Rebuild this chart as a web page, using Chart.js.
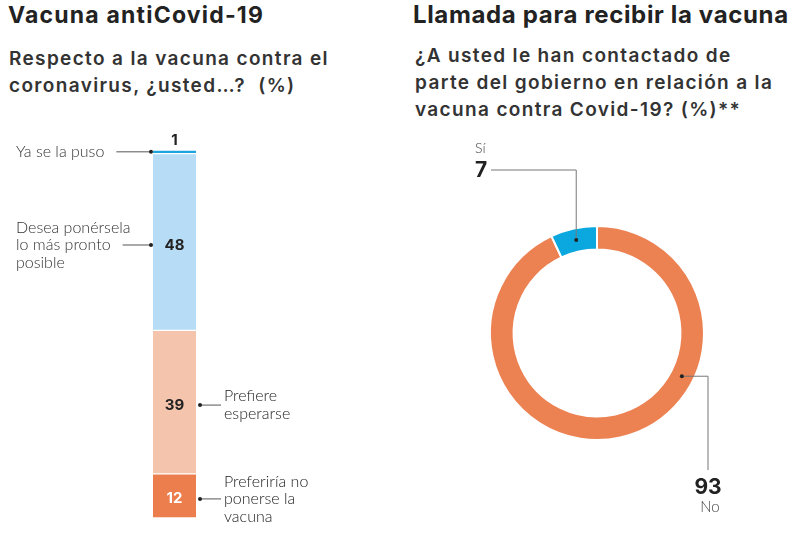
<!DOCTYPE html>
<html>
<head>
<meta charset="utf-8">
<script src="https://cdn.jsdelivr.net/npm/chart.js@4.4.0/dist/chart.umd.min.js"></script>
<style>
  body { margin: 0; width: 800px; height: 542px; background: #fff; position: relative; overflow: hidden; font-family: Inter, "Open Sans", sans-serif; color: #222; }
  .titulo { position: absolute; font-weight: 700; font-size: 23px; line-height: 26px; white-space: nowrap; letter-spacing: 1.2px; }
  .sub { position: absolute; font-weight: 600; font-size: 19px; line-height: 27px; color: #333; white-space: nowrap; letter-spacing: 1.35px; }
  .lienzo { position: absolute; top: 130px; width: 400px; height: 412px; }
</style>
</head>
<body>
<div class="titulo" style="left:8px;top:2px">Vacuna antiCovid-19</div>
<div class="sub" style="left:9px;top:45px">Respecto a la vacuna contra el<br>coronavirus, ¿usted…?&nbsp; (%)</div>
<div class="titulo" style="left:413px;top:2px;font-size:24px;letter-spacing:0.65px">Llamada para recibir la vacuna</div>
<div class="sub" style="left:415px;top:42px">¿A usted le han contactado de<br>parte del gobierno en relación a la<br>vacuna contra Covid-19? (%)**</div>

<canvas id="graficoBarra" class="lienzo" style="left:0" width="400" height="412"></canvas>
<canvas id="graficoDona" class="lienzo" style="left:400px" width="400" height="412"></canvas>

<script>
// datos de la barra apilada (de arriba hacia abajo)
const categoriasVacuna = ["Ya se la puso", "Desea ponérsela lo más pronto posible", "Prefiere esperarse", "Preferiría no ponerse la vacuna"];
const etiquetasVacuna = [["Ya se la puso"], ["Desea ponérsela", "lo más pronto", "posible"], ["Prefiere", "esperarse"], ["Preferiría no", "ponerse la", "vacuna"]];
const valoresVacuna = [1, 48, 39, 12];
const ladoEtiqueta = ["izq", "izq", "der", "der"];

// datos de la dona
const categoriasLlamada = ["No", "Sí"];
const valoresLlamada = [93, 7];

const coloresVacuna = ["#1ca4de", "#b7dcf6", "#f5c4ad", "#ec7d4d"];
const coloresTextoVacuna = ["#222", "#222", "#222", "#fff"];
const coloresLlamada = ["#ec8152", "#0ba8df"];

const fuenteLigera = '300 16px Lato, "Open Sans", sans-serif';
const fuenteNegrita = '700 15px Inter, "Open Sans", sans-serif';

function punto(ctx, x, y) {
  ctx.beginPath();
  ctx.arc(x, y, 2, 0, Math.PI * 2);
  ctx.fillStyle = "#222";
  ctx.fill();
}

// plugin para los numeros y las etiquetas con linea guia
const etiquetasBarra = {
  id: "etiquetasBarra",
  afterDatasetsDraw(chart) {
    const ctx = chart.ctx;
    ctx.save();
    chart.data.datasets.forEach((ds, i) => {
      const bar = chart.getDatasetMeta(i).data[0];
      const arriba = Math.min(bar.y, bar.base);
      const abajo = Math.max(bar.y, bar.base);
      const izq = bar.x - bar.width / 2;
      const der = bar.x + bar.width / 2;
      let cy = (arriba + abajo) / 2;

      // valor
      ctx.font = fuenteNegrita;
      ctx.textAlign = "center";
      ctx.textBaseline = "middle";
      ctx.fillStyle = coloresTextoVacuna[i];
      if (abajo - arriba < 12) {
        ctx.fillStyle = "#222";
        ctx.fillText(ds.data[0], bar.x, arriba - 10);
      } else {
        ctx.fillText(ds.data[0], bar.x, cy + 3);
        cy = cy + 3;
      }

      // etiqueta
      const lineas = etiquetasVacuna[i];
      const alto = 17.5;
      const y0 = cy - (lineas.length - 1) * alto / 2;
      ctx.font = fuenteLigera;
      ctx.fillStyle = "#333";
      ctx.textAlign = "left";
      ctx.strokeStyle = "#555";
      ctx.lineWidth = 1;
      if (ladoEtiqueta[i] === "izq") {
        const tx = 16;
        lineas.forEach((l, k) => ctx.fillText(l, tx, y0 + k * alto));
        const medio = lineas[Math.floor(lineas.length / 2)];
        const desde = tx + ctx.measureText(medio).width + 12;
        const hasta = izq - 2;
        ctx.beginPath();
        ctx.moveTo(desde, cy);
        ctx.lineTo(hasta, cy);
        ctx.stroke();
        punto(ctx, hasta, cy);
      } else {
        const desde = der + 4;
        const tx = desde + 24;
        ctx.beginPath();
        ctx.moveTo(desde, cy);
        ctx.lineTo(tx - 3, cy);
        ctx.stroke();
        punto(ctx, desde, cy);
        lineas.forEach((l, k) => ctx.fillText(l, tx, y0 + k * alto));
      }
    });
    ctx.restore();
  }
};

new Chart(document.getElementById("graficoBarra"), {
  type: "bar",
  data: {
    labels: [""],
    datasets: categoriasVacuna.map((c, i) => ({
      label: c,
      data: [valoresVacuna[i]],
      backgroundColor: coloresVacuna[i],
      borderColor: "#fff",
      borderWidth: { top: 1, bottom: 1, left: 0, right: 0 },
      borderSkipped: false,
      barPercentage: 1,
      categoryPercentage: 1
    }))
  },
  options: {
    responsive: false,
    animation: false,
    layout: { padding: { left: 153, right: 204, top: 20, bottom: 24 } },
    plugins: { legend: { display: false }, tooltip: { enabled: false } },
    scales: {
      x: { stacked: true, display: false },
      y: { stacked: true, display: false, min: 0, max: 100, reverse: true }
    }
  },
  plugins: [etiquetasBarra]
});

// plugin para las llamadas de la dona
const llamadasDona = {
  id: "llamadasDona",
  afterDatasetsDraw(chart) {
    const ctx = chart.ctx;
    const meta = chart.getDatasetMeta(0);
    const arcoNo = meta.data[0];
    const arcoSi = meta.data[1];
    const cx = arcoNo.x, cy = arcoNo.y;
    const rMedio = (arcoNo.innerRadius + arcoNo.outerRadius) / 2;
    ctx.save();
    ctx.strokeStyle = "#777";
    ctx.lineWidth = 1;

    // Sí
    const pSi = arcoSi.tooltipPosition();
    const ySi = cy - 163;
    const xSi = cx - 106;
    ctx.beginPath();
    ctx.moveTo(pSi.x, pSi.y);
    ctx.lineTo(pSi.x, ySi);
    ctx.lineTo(xSi, ySi);
    ctx.stroke();
    punto(ctx, pSi.x, pSi.y);
    ctx.fillStyle = "#222";
    ctx.font = '700 21px Inter, "Open Sans", sans-serif';
    ctx.textAlign = "left";
    ctx.textBaseline = "middle";
    ctx.fillText(valoresLlamada[1], cx - 122, ySi + 1);
    ctx.font = '300 14px Lato, "Open Sans", sans-serif';
    ctx.fillStyle = "#444";
    ctx.fillText(categoriasLlamada[1], cx - 122, ySi - 22);

    // No
    const ang = (117 - 90) * Math.PI / 180;
    const px = cx + rMedio * Math.cos(ang);
    const py = cy + rMedio * Math.sin(ang);
    const xNo = cx + 111;
    const yNo = cy + 137;
    ctx.beginPath();
    ctx.moveTo(px, py);
    ctx.lineTo(xNo, py);
    ctx.lineTo(xNo, yNo);
    ctx.stroke();
    punto(ctx, px, py);
    ctx.fillStyle = "#222";
    ctx.font = '700 21px Inter, "Open Sans", sans-serif';
    ctx.textAlign = "center";
    ctx.fillText(valoresLlamada[0], xNo, yNo + 18);
    ctx.font = '300 15px Lato, "Open Sans", sans-serif';
    ctx.fillStyle = "#444";
    ctx.fillText(categoriasLlamada[0], xNo + 2, yNo + 37);
    ctx.restore();
  }
};

new Chart(document.getElementById("graficoDona"), {
  type: "doughnut",
  data: {
    labels: categoriasLlamada,
    datasets: [{
      data: valoresLlamada,
      backgroundColor: coloresLlamada,
      borderColor: "#fff",
      borderWidth: 2
    }]
  },
  options: {
    responsive: false,
    animation: false,
    cutout: "78%",
    layout: { padding: { left: 89, right: 95, top: 95, bottom: 101 } },
    plugins: { legend: { display: false }, tooltip: { enabled: false } }
  },
  plugins: [llamadasDona]
});
</script>
</body>
</html>
